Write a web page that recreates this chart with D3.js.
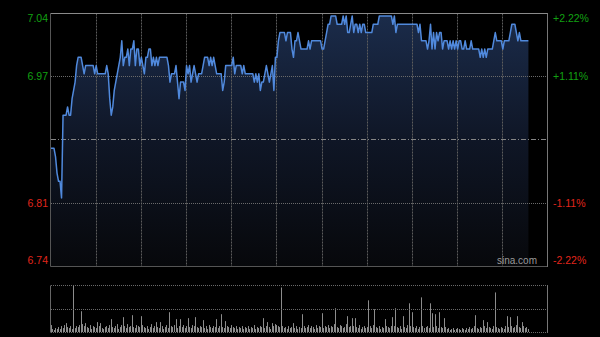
<!DOCTYPE html>
<html><head><meta charset="utf-8">
<script src="https://cdn.jsdelivr.net/npm/d3@7"></script>
<style>html,body{margin:0;padding:0;background:#000;}svg{display:block;}</style>
</head><body>
<svg id="c" width="600" height="337"></svg>
<script>
// ---- data ----
const prevClose = 6.89;
const priceMin = 6.737, priceMax = 7.043;
const priceLabels = ["7.04", "6.97", "", "6.81", "6.74"];
const pctLabels = ["+2.22%", "+1.11%", "", "-1.11%", "-2.22%"];
const totalMinutes = 330;
const prices = [
6.88,6.88,6.88,6.87,6.85,6.84,6.84,6.82,6.92,6.92,
6.92,6.93,6.92,6.92,6.94,6.95,6.96,6.98,6.99,6.99,
6.99,6.98,6.97,6.98,6.98,6.98,6.98,6.98,6.98,6.97,
6.98,6.97,6.97,6.97,6.97,6.97,6.97,6.98,6.97,6.94,
6.92,6.93,6.95,6.96,6.97,6.98,6.99,7.01,6.98,6.99,
6.99,7.00,6.98,7.00,7.00,7.01,6.98,7.00,7.00,6.98,
6.99,6.98,6.97,6.99,6.99,7.00,7.00,6.98,6.99,6.98,
6.99,6.98,6.99,6.99,6.99,6.99,6.99,6.99,6.98,6.96,
6.97,6.97,6.97,6.98,6.96,6.94,6.96,6.96,6.96,6.95,
6.98,6.97,6.98,6.96,6.97,6.98,6.97,6.96,6.97,6.97,
6.97,6.98,6.99,6.99,6.99,6.98,6.99,6.98,6.99,6.98,
6.97,6.97,6.97,6.97,6.95,6.96,6.98,6.98,6.98,6.98,
6.98,6.99,6.97,6.98,6.98,6.98,6.98,6.97,6.98,6.97,
6.97,6.97,6.97,6.97,6.97,6.96,6.97,6.96,6.97,6.95,
6.96,6.96,6.97,6.98,6.97,6.96,6.97,6.98,6.95,6.99,
6.99,7.01,7.02,7.02,7.02,7.02,7.01,7.02,7.02,7.02,
7.00,6.99,7.01,7.01,7.02,7.01,7.00,7.00,7.00,7.00,
7.00,7.01,7.00,7.01,7.01,7.01,7.01,7.01,7.01,7.01,
7.00,7.00,7.01,7.02,7.03,7.03,7.04,7.04,7.04,7.04,
7.03,7.03,7.03,7.03,7.04,7.03,7.04,7.02,7.02,7.03,
7.04,7.02,7.03,7.03,7.02,7.03,7.02,7.03,7.03,7.02,
7.02,7.02,7.02,7.02,7.03,7.03,7.03,7.03,7.04,7.04,
7.04,7.04,7.04,7.04,7.04,7.04,7.04,7.03,7.04,7.02,
7.03,7.03,7.03,7.03,7.03,7.03,7.03,7.03,7.03,7.03,
7.03,7.03,7.03,7.03,7.02,7.03,7.01,7.01,7.01,7.01,
7.00,7.01,7.03,7.00,7.02,7.00,7.02,7.01,7.02,7.02,
7.00,7.01,7.01,7.01,7.00,7.01,7.00,7.01,7.00,7.01,
7.00,7.01,7.01,7.00,7.00,7.01,7.00,7.00,7.00,7.01,
7.00,7.00,7.00,7.00,7.00,6.99,7.00,6.99,7.00,6.99,
7.00,7.00,7.00,7.00,7.01,7.02,7.01,7.01,7.01,7.01,
7.00,7.01,7.01,7.01,7.01,7.02,7.03,7.03,7.03,7.02,
7.01,7.02,7.01,7.01,7.01,7.01,7.01,7.01
];
const volumes = [
70,30,20,40,30,50,30,60,40,70,
90,50,40,60,30,470,40,60,50,70,
210,80,60,90,50,40,70,30,60,50,
40,100,60,90,40,30,50,60,40,70,
130,50,40,60,80,30,50,70,150,60,
40,80,50,60,170,50,40,70,60,50,
160,70,50,40,60,30,50,80,40,60,
100,50,40,100,60,30,50,70,40,200,
60,50,70,130,40,60,130,50,70,40,
60,140,50,40,70,60,150,50,40,60,
50,120,40,60,30,70,50,40,60,50,
130,40,60,180,50,40,110,60,50,40,
70,50,40,60,30,50,40,60,30,50,
40,60,30,50,40,70,30,50,40,60,
50,140,40,60,100,50,30,90,60,80,
70,60,50,450,60,40,50,30,60,40,
50,90,40,60,30,50,40,180,60,40,
50,70,40,60,50,30,70,40,60,50,
190,40,60,50,70,40,60,50,80,240,
50,40,70,60,40,50,80,160,50,60,
140,60,140,50,40,70,30,50,60,40,
50,320,60,40,70,230,50,40,60,30,
50,40,130,60,50,40,60,150,60,240,
50,40,60,30,160,50,40,70,290,60,
200,50,40,60,30,50,350,60,40,50,
60,40,290,190,50,180,60,40,200,50,
40,140,50,30,40,20,30,40,20,30,
40,30,20,40,30,20,40,30,50,30,
40,60,170,40,30,50,40,120,60,40,
100,50,40,30,60,400,50,40,30,50,
40,30,60,160,50,150,60,40,50,70,
160,50,40,100,60,40,50,30
];

// ---- layout ----
const svg = d3.select("#c");
const L = 51, R = 548, T = 13.5, B = 266.5;
const VT = 285.5, VB = 332.5;
const x = d3.scaleLinear().domain([0, totalMinutes]).range([L, R]);
const y = d3.scaleLinear().domain([priceMin, priceMax]).range([B, T]);
const yv = d3.scaleLinear().domain([0, d3.max(volumes)]).range([VB - 0.5, VT]);
const px = v => Math.floor(v) + 0.5;

svg.append("rect").attr("width", 600).attr("height", 337).attr("fill", "#000");

const defs = svg.append("defs");
const grad = defs.append("linearGradient").attr("id", "fillg")
  .attr("gradientUnits", "userSpaceOnUse").attr("x1", 0).attr("x2", 0).attr("y1", T).attr("y2", B);
grad.append("stop").attr("offset", "0").attr("stop-color", "#1b2c4b");
grad.append("stop").attr("offset", "0.5").attr("stop-color", "#0f1626");
grad.append("stop").attr("offset", "1").attr("stop-color", "#07080b");

const levels = d3.range(5).map(i => priceMax - i * (priceMax - priceMin) / 4);

// area
const idx = d3.range(prices.length);
svg.append("path").datum(idx)
  .attr("d", d3.area().x(i => x(i)).y0(B).y1(i => y(prices[i])))
  .attr("fill", "url(#fillg)");

// vertical grid
const vticks = d3.range(30, totalMinutes, 30);
svg.append("g").selectAll("line").data(vticks).join("line")
  .attr("x1", d => px(x(d))).attr("x2", d => px(x(d)))
  .attr("y1", T).attr("y2", B)
  .attr("stroke", "#5c5c5c").attr("stroke-width", 1).attr("stroke-dasharray", "2,1");

// horizontal grid
svg.append("g").selectAll("line").data([1, 3]).join("line")
  .attr("x1", L).attr("x2", R)
  .attr("y1", i => px(y(levels[i]))).attr("y2", i => px(y(levels[i])))
  .attr("stroke", "#6a6a6a").attr("stroke-dasharray", "1,1");
svg.append("line").attr("x1", L).attr("x2", R)
  .attr("y1", px(y(levels[2]))).attr("y2", px(y(levels[2])))
  .attr("stroke", "#858585").attr("stroke-dasharray", "5,2,1,2");

// line
svg.append("path").datum(idx)
  .attr("d", d3.line().x(i => x(i)).y(i => y(prices[i])))
  .attr("fill", "none").attr("stroke", "#5089dc").attr("stroke-width", 1.5)
  .attr("stroke-linejoin", "round");

// borders
svg.append("line").attr("x1", L - 0.5).attr("x2", R).attr("y1", T).attr("y2", T).attr("stroke", "#8a8a8a");
svg.append("line").attr("x1", L - 0.5).attr("x2", R).attr("y1", B).attr("y2", B).attr("stroke", "#555");
svg.append("line").attr("x1", L - 0.5).attr("x2", L - 0.5).attr("y1", T).attr("y2", B).attr("stroke", "#555");
svg.append("line").attr("x1", R - 0.5).attr("x2", R - 0.5).attr("y1", T).attr("y2", B + 0.5).attr("stroke", "#777");

// labels
const font = "'Liberation Sans', Arial, sans-serif";
const labelOff = [5, 0, 0, 0, -6];
const colorFor = i => i < 2 ? "#12a012" : "#e0261c";
svg.append("g").selectAll("text").data(d3.range(5).filter(i => priceLabels[i])).join("text")
  .attr("x", 48).attr("y", i => px(y(levels[i])) + labelOff[i]).attr("dy", "0.35em")
  .attr("text-anchor", "end").attr("font-family", font).attr("font-size", 10.5)
  .attr("fill", colorFor).text(i => priceLabels[i]);
svg.append("g").selectAll("text").data(d3.range(5).filter(i => pctLabels[i])).join("text")
  .attr("x", 553).attr("y", i => px(y(levels[i])) + labelOff[i]).attr("dy", "0.35em")
  .attr("text-anchor", "start").attr("font-family", font).attr("font-size", 10.5)
  .attr("fill", colorFor).text(i => pctLabels[i]);

svg.append("text").attr("x", 537).attr("y", 264).attr("text-anchor", "end")
  .attr("font-family", font).attr("font-size", 10).attr("fill", "#9a9a9a").text("sina.com");

// volume panel
svg.append("g").selectAll("line").data(d3.range(volumes.length)).join("line")
  .attr("x1", i => px(x(i))).attr("x2", i => px(x(i)))
  .attr("y1", VB - 0.5).attr("y2", i => yv(volumes[i]))
  .attr("stroke", "#8c8c8c").attr("stroke-width", 1);
const vmid = (VT + VB) / 2;
[VT, px(vmid), VB].forEach(yy => {
  svg.append("line").attr("x1", L).attr("x2", R).attr("y1", yy).attr("y2", yy)
    .attr("stroke", "#6a6a6a").attr("stroke-dasharray", "1,1");
});
svg.append("line").attr("x1", L - 0.5).attr("x2", L - 0.5).attr("y1", VT).attr("y2", VB).attr("stroke", "#666");
svg.append("line").attr("x1", R - 0.5).attr("x2", R - 0.5).attr("y1", VT).attr("y2", VB).attr("stroke", "#777");
</script>
</body></html>
